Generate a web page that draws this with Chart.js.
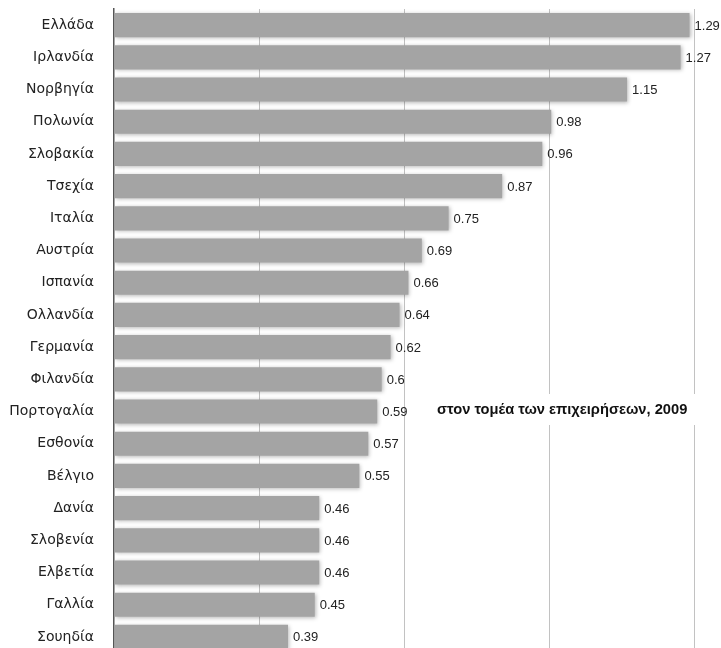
<!DOCTYPE html>
<html>
<head>
<meta charset="utf-8">
<script src="https://cdn.jsdelivr.net/npm/chart.js@4/dist/chart.umd.min.js"></script>
<style>
  body { margin: 0; background: #fff; overflow: hidden; }
  #wrap { width: 721px; height: 653px; }
</style>
</head>
<body>
<div id="wrap"><canvas id="chart" width="721" height="653"></canvas></div>
<script>
const countries = ["Ελλάδα", "Ιρλανδία", "Νορβηγία", "Πολωνία", "Σλοβακία", "Τσεχία", "Ιταλία", "Αυστρία", "Ισπανία", "Ολλανδία",
    "Γερμανία", "Φιλανδία", "Πορτογαλία", "Εσθονία", "Βέλγιο", "Δανία", "Σλοβενία", "Ελβετία", "Γαλλία", "Σουηδία"]
const values = [1.29, 1.27, 1.15, 0.98, 0.96, 0.87, 0.75, 0.69, 0.66, 0.64, 0.62, 0.6, 0.59, 0.57, 0.55, 0.46, 0.46, 0.46, 0.45, 0.39]
const note = "στον τομέα των επιχειρήσεων, 2009"

// soft shadow under the bars
const barShadow = {
    id: "barShadow",
    beforeDatasetsDraw: (chart) => {
        const ctx = chart.ctx
        ctx.save()
        ctx.shadowColor = "rgba(0,0,0,0.28)"
        ctx.shadowBlur = 4
        ctx.shadowOffsetX = 1
        ctx.shadowOffsetY = 1
    },
    afterDatasetsDraw: (chart) => {
        chart.ctx.restore()
    }
}

const valueLabels = {
    id: "valueLabels",
    afterDatasetsDraw: (chart) => {
        const ctx = chart.ctx
        const meta = chart.getDatasetMeta(0)
        ctx.save()
        ctx.font = "13px 'Liberation Sans', Arial, sans-serif"
        ctx.fillStyle = "#222"
        ctx.textAlign = "left"
        ctx.textBaseline = "middle"
        meta.data.forEach((bar, i) => {
            ctx.fillText(String(values[i]), bar.x + 5, bar.y + 1)
        })
        ctx.restore()
    }
}

const noteText = {
    id: "noteText",
    afterDraw: (chart) => {
        const ctx = chart.ctx
        ctx.save()
        ctx.fillStyle = "#fff"
        ctx.fillRect(425, 394, 285, 31)
        ctx.font = "bold 14.7px 'Liberation Sans', Arial, sans-serif"
        ctx.fillStyle = "#111"
        ctx.textBaseline = "middle"
        ctx.fillText(note, 437, 410)
        ctx.restore()
    }
}

const ctx = document.querySelector("#chart")
const chart = new Chart(ctx, {
    type: "bar",
    data: {
        labels: countries,
        datasets: [{
            data: values,
            backgroundColor: "#a4a4a4",
            borderWidth: 0,
            categoryPercentage: 1,
            barPercentage: 0.75
        }]
    },
    options: {
        indexAxis: "y",
        responsive: false,
        animation: false,
        layout: { padding: { top: 9, right: 27, bottom: 0, left: 0 } },
        plugins: {
            legend: { display: false },
            tooltip: { enabled: false }
        },
        scales: {
            x: {
                min: 0,
                max: 1.3,
                afterFit: (scale) => { scale.height = 0 },
                ticks: { display: false, stepSize: 0.325 },
                grid: {
                    drawTicks: false,
                    color: (c) => c.index === 0 ? "rgba(0,0,0,0)" : "#c2c2c2",
                    lineWidth: 1
                },
                border: { display: false }
            },
            y: {
                afterFit: (scale) => {
                    scale.width = 114
                    scale.paddingTop = 0
                    scale.paddingBottom = 0
                },
                grid: { display: false, drawTicks: false },
                border: { display: true, color: "#555", width: 1.5 },
                ticks: {
                    padding: 20,
                    color: "#222",
                    font: { family: "'DejaVu Sans', sans-serif", size: 14 }
                }
            }
        }
    },
    plugins: [barShadow, valueLabels, noteText]
})
</script>
</body>
</html>
